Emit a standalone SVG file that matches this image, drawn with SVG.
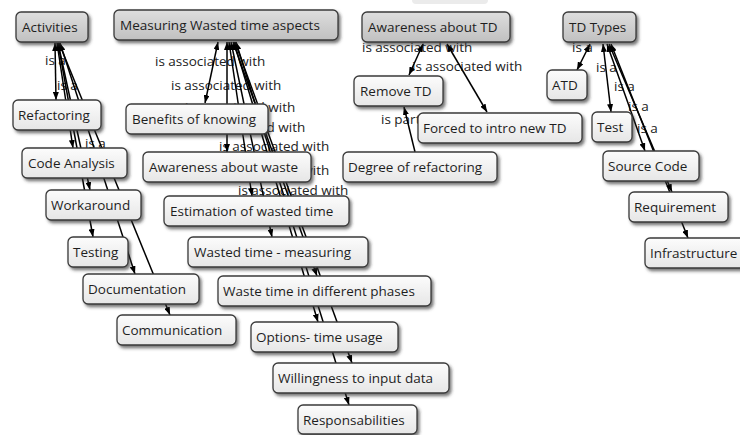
<svg xmlns="http://www.w3.org/2000/svg" width="740" height="435" viewBox="0 0 740 435">
<defs>
<linearGradient id="gDark" x1="0" y1="0" x2="0" y2="1"><stop offset="0" stop-color="#dedede"/><stop offset="1" stop-color="#c0c0c0"/></linearGradient>
<linearGradient id="gLight" x1="0" y1="0" x2="0" y2="1"><stop offset="0" stop-color="#fcfcfc"/><stop offset="1" stop-color="#e6e6e6"/></linearGradient>
<filter id="sh" x="-10%" y="-20%" width="130%" height="160%"><feDropShadow dx="2" dy="2.5" stdDeviation="1.4" flood-color="#333" flood-opacity="0.65"/></filter>
<marker id="arr" viewBox="0 0 8 6" markerUnits="userSpaceOnUse" markerWidth="8" markerHeight="6" refX="8" refY="3" orient="auto-start-reverse"><path d="M0,0 L8,3 L0,6 z" fill="#000"/></marker>
</defs>
<style>
.n rect{stroke:#3a3a3a;stroke-width:1.3;filter:url(#sh)}
.d rect{fill:url(#gDark)}
.l rect{fill:url(#gLight)}
.n text{font-family:"Open Sans","Noto Sans",sans-serif;font-size:13.5px;fill:#1e1e1e}
.lbl text{font-family:"Open Sans","Noto Sans",sans-serif;font-size:13.5px;fill:#222}
.c line{stroke:#000;stroke-width:1.5;marker-start:url(#arr);marker-end:url(#arr)}
.c line.one{marker-start:none}
</style>
<rect x="412" y="-6" width="76" height="10" rx="4" fill="#ebebeb"/>
<g id="labels" class="lbl">
<text x="45" y="65">is a</text>
<text x="57" y="90">is a</text>
<text x="85" y="148">is a</text>
<text x="155" y="66">is associated with</text>
<text x="171" y="90">is associated with</text>
<text x="185" y="112">is associated with</text>
<text x="195" y="132">is associated with</text>
<text x="219" y="151">is associated with</text>
<text x="219" y="175">is associated with</text>
<text x="238" y="195">is associated with</text>
<text x="362" y="52">is associated with</text>
<text x="412" y="71">is associated with</text>
<text x="381" y="124">is part of</text>
<text x="572" y="52">is a</text>
<text x="596" y="72">is a</text>
<text x="614" y="91">is a</text>
<text x="628" y="111">is a</text>
<text x="637" y="133">is a</text>
</g>
<g id="connectors" class="c">
<line x1="55" y1="43" x2="56" y2="100"/>
<line x1="57" y1="43" x2="73" y2="148"/>
<line x1="58" y1="43" x2="90" y2="190"/>
<line x1="58" y1="43" x2="93" y2="237"/>
<line x1="60" y1="43" x2="135" y2="274"/>
<line x1="59" y1="43" x2="170" y2="315"/>
<line x1="218" y1="42" x2="205" y2="103"/>
<line x1="227" y1="42" x2="227" y2="152"/>
<line x1="229" y1="42" x2="252" y2="196"/>
<line x1="231" y1="42" x2="272" y2="237"/>
<line x1="233" y1="42" x2="317" y2="276"/>
<line x1="234" y1="42" x2="318" y2="322"/>
<line x1="235" y1="42" x2="352" y2="363"/>
<line x1="236" y1="42" x2="349" y2="405"/>
<line x1="423" y1="44" x2="409" y2="75"/>
<line x1="447" y1="44" x2="487" y2="112"/>
<line class="one" x1="415" y1="152" x2="404" y2="107"/>
<line x1="590" y1="44" x2="577" y2="70"/>
<line x1="603" y1="44" x2="611" y2="112"/>
<line x1="607" y1="44" x2="645" y2="151"/>
<line x1="609" y1="44" x2="672" y2="192"/>
<line x1="611" y1="44" x2="688" y2="238"/>
</g>
<g id="activities" class="n d"><rect x="16" y="12" width="72" height="30" rx="5"/><text x="22" y="32">Activities</text></g>
<g id="measuring" class="n d"><rect x="114" y="10" width="224" height="30" rx="5"/><text x="120" y="30">Measuring Wasted time aspects</text></g>
<g id="awareness-td" class="n d"><rect x="362" y="12" width="148" height="30" rx="5"/><text x="368" y="32">Awareness about TD</text></g>
<g id="td-types" class="n d"><rect x="563" y="12" width="73" height="30" rx="5"/><text x="569" y="32">TD Types</text></g>
<g id="refactoring" class="n l"><rect x="13" y="100" width="88" height="30" rx="5"/><text x="18" y="120">Refactoring</text></g>
<g id="benefits" class="n l"><rect x="126" y="104" width="142" height="30" rx="5"/><text x="132" y="124">Benefits of knowing</text></g>
<g id="code-analysis" class="n l"><rect x="22" y="148" width="105" height="30" rx="5"/><text x="28" y="168">Code Analysis</text></g>
<g id="awareness-waste" class="n l"><rect x="143" y="152" width="168" height="30" rx="5"/><text x="149" y="172">Awareness about waste</text></g>
<g id="workaround" class="n l"><rect x="46" y="190" width="95" height="30" rx="5"/><text x="51" y="210">Workaround</text></g>
<g id="estimation" class="n l"><rect x="164" y="196" width="185" height="30" rx="5"/><text x="170" y="216">Estimation of wasted time</text></g>
<g id="testing" class="n l"><rect x="68" y="237" width="60" height="30" rx="5"/><text x="73" y="257">Testing</text></g>
<g id="wasted-measuring" class="n l"><rect x="188" y="237" width="180" height="30" rx="5"/><text x="194" y="257">Wasted time - measuring</text></g>
<g id="documentation" class="n l"><rect x="83" y="274" width="116" height="30" rx="5"/><text x="88" y="294">Documentation</text></g>
<g id="waste-phases" class="n l"><rect x="218" y="276" width="213" height="30" rx="5"/><text x="223" y="296">Waste time in different phases</text></g>
<g id="communication" class="n l"><rect x="117" y="315" width="119" height="30" rx="5"/><text x="122" y="335">Communication</text></g>
<g id="options" class="n l"><rect x="251" y="322" width="147" height="30" rx="5"/><text x="256" y="342">Options- time usage</text></g>
<g id="willingness" class="n l"><rect x="273" y="363" width="176" height="30" rx="5"/><text x="278" y="383">Willingness to input data</text></g>
<g id="responsabilities" class="n l"><rect x="298" y="405" width="119" height="29" rx="5"/><text x="303" y="425">Responsabilities</text></g>
<g id="remove-td" class="n l"><rect x="354" y="76" width="89" height="30" rx="5"/><text x="360" y="96">Remove TD</text></g>
<g id="forced" class="n l"><rect x="418" y="113" width="164" height="30" rx="5"/><text x="423" y="133">Forced to intro new TD</text></g>
<g id="degree" class="n l"><rect x="343" y="152" width="154" height="30" rx="5"/><text x="348" y="172">Degree of refactoring</text></g>
<g id="atd" class="n l"><rect x="547" y="70" width="40" height="30" rx="5"/><text x="552" y="90">ATD</text></g>
<g id="test" class="n l"><rect x="592" y="112" width="40" height="30" rx="5"/><text x="597" y="132">Test</text></g>
<g id="source-code" class="n l"><rect x="603" y="151" width="96" height="30" rx="5"/><text x="608" y="171">Source Code</text></g>
<g id="requirement" class="n l"><rect x="629" y="192" width="99" height="30" rx="5"/><text x="634" y="212">Requirement</text></g>
<g id="infrastructure" class="n l"><rect x="645" y="238" width="100" height="30" rx="5"/><text x="650" y="258">Infrastructure</text></g>
</svg>
